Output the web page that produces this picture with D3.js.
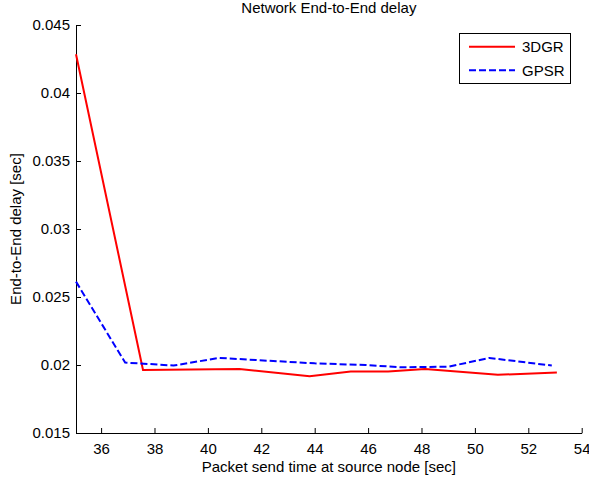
<!DOCTYPE html>
<html>
<head>
<meta charset="utf-8">
<script src="https://cdn.jsdelivr.net/npm/d3@7"></script>
<style>
  html, body { margin: 0; padding: 0; background: #fff; }
  svg { display: block; font-family: "Liberation Sans", Arial, Helvetica, sans-serif; }
</style>
</head>
<body>
<svg id="chart" width="589" height="478"></svg>
<script>
// ---- data ----
const title = "Network End-to-End delay";
const xLabel = "Packet send time at source node [sec]";
const yLabel = "End-to-End delay [sec]";
const seriesNames = ["3DGR", "GPSR"];

const x3DGR = [35.06, 37.57, 41.18, 43.81, 45.35, 46.75, 48.13, 50.86, 53.07];
const y3DGR = [0.04285, 0.01963, 0.01970, 0.01918, 0.01953, 0.01953, 0.01970, 0.01928, 0.01944];

const xGPSR = [35.06, 36.90, 38.71, 40.42, 44.00, 45.90, 47.25, 49.02, 50.54, 52.88];
const yGPSR = [0.02613, 0.02018, 0.01996, 0.02052, 0.02012, 0.02000, 0.01983, 0.01988, 0.02052, 0.01996];

const xTicks = [36, 38, 40, 42, 44, 46, 48, 50, 52, 54];
const yTicks = [0.015, 0.02, 0.025, 0.03, 0.035, 0.04, 0.045];
const xDomain = [35.06, 54];
const yDomain = [0.015, 0.045];

// ---- layout ----
const svg = d3.select("#chart");
const L = 76, R = 581.7, T = 25, B = 433;
const FS = 15;

const x = d3.scaleLinear().domain(xDomain).range([L, R]);
const y = d3.scaleLinear().domain(yDomain).range([B, T]);

const colors = ["#ff0000", "#0000ff"];
const dashes = [null, "7,3"];

// axes
const xAxis = d3.axisBottom(x).tickValues(xTicks).tickFormat(d3.format("d"))
  .tickSizeInner(-5).tickSizeOuter(0).tickPadding(10);
const yAxis = d3.axisLeft(y).tickValues(yTicks).tickFormat(d => String(+d.toFixed(3)))
  .tickSizeInner(-5).tickSizeOuter(0).tickPadding(6);

const gx = svg.append("g").attr("transform", `translate(0,${B})`).call(xAxis);
const gy = svg.append("g").attr("transform", `translate(${L},0)`).call(yAxis);
[gx, gy].forEach(g => {
  g.selectAll("text").attr("font-size", FS).attr("fill", "#000")
    .attr("font-family", '"Liberation Sans", Arial, sans-serif');
  g.selectAll("line").attr("stroke", "#000");
  g.select(".domain").attr("stroke", "#000");
});
gx.selectAll("text").attr("dy", "0.71em");

// lines
const line = d3.line().x(d => x(d[0])).y(d => y(d[1]));
const dataSets = [
  d3.zip(x3DGR, y3DGR),
  d3.zip(xGPSR, yGPSR)
];
dataSets.forEach((ds, i) => {
  svg.append("path").datum(ds)
    .attr("d", line)
    .attr("fill", "none")
    .attr("stroke", colors[i])
    .attr("stroke-width", 2)
    .attr("stroke-dasharray", dashes[i])
    .attr("stroke-linejoin", "miter");
});

// title
svg.append("text").attr("x", (L + R) / 2).attr("y", 13)
  .attr("text-anchor", "middle").attr("font-size", FS).text(title);

// x label
svg.append("text").attr("x", (L + R) / 2).attr("y", 472)
  .attr("text-anchor", "middle").attr("font-size", FS).text(xLabel);

// y label
svg.append("text")
  .attr("transform", `translate(21,${(T + B) / 2}) rotate(-90)`)
  .attr("text-anchor", "middle").attr("font-size", FS).text(yLabel);

// legend
const lg = svg.append("g");
lg.append("rect").attr("x", 459.5).attr("y", 33.5).attr("width", 111).attr("height", 50)
  .attr("fill", "#fff").attr("stroke", "#000").attr("stroke-width", 1);
seriesNames.forEach((name, i) => {
  const yy = 46.7 + i * 23.6;
  lg.append("line").attr("x1", 469).attr("x2", 515).attr("y1", yy).attr("y2", yy)
    .attr("stroke", colors[i]).attr("stroke-width", 2)
    .attr("stroke-dasharray", dashes[i]);
  lg.append("text").attr("x", 522).attr("y", yy + 5.3).attr("font-size", FS).text(name);
});
</script>
</body>
</html>
